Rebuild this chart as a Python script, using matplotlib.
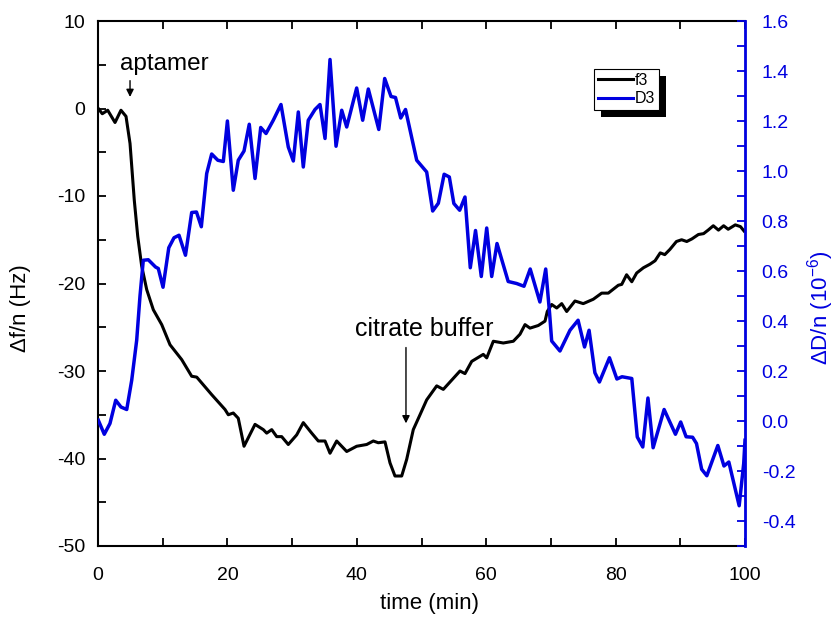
import matplotlib
matplotlib.use("Agg")
import matplotlib.pyplot as plt
from matplotlib.ticker import MultipleLocator, FormatStrFormatter
from matplotlib.patches import Rectangle

plt.rcParams['font.family'] = ['Liberation Sans', 'DejaVu Sans']
plt.rcParams['axes.unicode_minus'] = False
plt.rcParams['mathtext.fontset'] = 'custom'
plt.rcParams['mathtext.rm'] = 'Liberation Sans'

# f3 (left axis, Hz)
t_f = [0.05, 0.66, 1.5, 2.63, 3.55, 4.33, 4.95, 5.61, 6.14, 6.75, 7.53, 8.55, 9.85,
       11.13, 12.94, 14.48, 15.26, 17.57, 19.63, 20.14, 20.91, 21.68, 22.57, 24.27,
       25.55, 26.07, 26.85, 27.62, 28.39, 29.41, 30.71, 31.73, 33.03, 34.05, 35.09,
       35.86, 36.89, 38.44, 39.98, 41.53, 42.55, 43.32, 44.36, 45.13, 45.9, 46.94,
       47.71, 48.73, 49.77, 50.8, 52.35, 53.37, 55.95, 56.72, 57.76, 59.55, 60.08,
       61.1, 62.64, 64.19, 65.22, 66.0, 66.77, 68.05, 69.09, 69.44, 70.12, 70.9,
       71.67, 72.44, 73.72, 75.0, 76.55, 77.85, 78.87, 80.42, 80.95, 81.7, 82.5,
       83.26, 84.3, 85.3, 86.1, 86.9, 87.6, 88.4, 89.4, 90.2, 91.0, 91.8, 92.8,
       93.6, 94.3, 95.1, 95.9, 96.7, 97.4, 98.5, 99.3, 99.85]
f3 = [0.0, -0.6, -0.2, -1.6, -0.2, -0.9, -4.0, -10.5, -14.6, -18.0, -20.7, -23.0, -24.7,
      -27.0, -28.7, -30.6, -30.7, -32.7, -34.4, -35.0, -34.8, -35.4, -38.6, -36.1,
      -36.7, -37.1, -36.7, -37.5, -37.5, -38.4, -37.3, -35.9, -37.1, -38.0, -38.0,
      -39.4, -38.0, -39.2, -38.6, -38.4, -38.0, -38.2, -38.1, -40.5, -42.0, -42.0,
      -40.1, -36.7, -35.0, -33.3, -31.7, -32.1, -30.0, -30.3, -28.9, -28.1, -28.5,
      -26.6, -26.8, -26.6, -25.8, -24.7, -25.1, -24.8, -24.3, -23.2, -22.4, -22.8,
      -22.3, -23.2, -22.0, -22.3, -21.8, -21.1, -21.1, -20.2, -20.1, -19.0, -19.8,
      -18.8, -18.2, -17.8, -17.4, -16.5, -16.7, -16.1, -15.2, -15.0, -15.2, -14.9, -14.4,
      -14.3, -13.9, -13.4, -13.9, -13.4, -13.8, -13.3, -13.5, -14.0]

# D3 (right axis, 1e-6)
t_d = [0.05, 0.97, 1.85, 2.74, 3.55, 4.44, 5.21, 5.98, 6.49, 7.0, 7.77, 8.89, 9.32,
       10.05, 10.94, 11.75, 12.52, 13.52, 14.48, 15.22, 15.97, 16.8, 17.57, 18.52,
       19.37, 20.0, 20.91, 21.68, 22.57, 23.38, 24.27, 25.15, 25.97, 27.09, 28.28,
       29.41, 30.19, 30.96, 31.73, 32.5, 33.54, 34.31, 35.09, 35.86, 36.79, 37.67,
       38.44, 39.98, 40.91, 41.78, 43.4, 44.31, 45.29, 45.98, 46.79, 47.53, 49.26,
       50.8, 51.73, 52.6, 53.5, 54.3, 55.0, 55.9, 56.72, 57.54, 58.35, 59.24, 60.08,
       60.85, 61.67, 63.4, 64.7, 65.84, 66.8, 68.3, 69.2, 69.8, 70.12, 71.4, 72.95,
       74.2, 75.2, 75.9, 76.8, 77.5, 79.05, 80.2, 80.99, 82.5, 83.35, 84.2, 85.0,
       85.8, 87.5, 89.25, 90.06, 90.9, 91.9, 92.5, 93.3, 94.1, 95.8, 96.75, 97.5,
       99.1, 99.8, 100.0]
d3 = [0.003, -0.053, -0.01, 0.083, 0.056, 0.046, 0.163, 0.323, 0.50, 0.643, 0.645, 0.616, 0.61,
      0.535, 0.693, 0.733, 0.743, 0.663, 0.834, 0.836, 0.777, 0.99, 1.068, 1.043,
      1.038, 1.20, 0.923, 1.043, 1.08, 1.187, 0.97, 1.174, 1.15, 1.203, 1.266,
      1.096, 1.04, 1.236, 1.016, 1.203, 1.246, 1.266, 1.13, 1.446, 1.099, 1.243,
      1.176, 1.332, 1.203, 1.328, 1.166, 1.37, 1.298, 1.294, 1.212, 1.246, 1.043,
      0.996, 0.84, 0.871, 0.987, 0.976, 0.87, 0.843, 0.896, 0.613, 0.762, 0.578, 0.772,
      0.578, 0.71, 0.558, 0.55, 0.539, 0.608, 0.476, 0.608, 0.43, 0.32, 0.28, 0.363,
      0.403, 0.296, 0.363, 0.193, 0.156, 0.253, 0.168, 0.177, 0.17, -0.064, -0.104, 0.092,
      -0.107, 0.046, -0.053, -0.004, -0.063, -0.065, -0.09, -0.193, -0.219, -0.098, -0.18, -0.164,
      -0.339, -0.17, -0.077]

fig = plt.figure(figsize=(8.36, 6.21), dpi=100)
ax = fig.add_axes([98/836, 1-546/621, 647/836, 525/621])
ax2 = ax.twinx()

blue = '#0000e0'
l1, = ax.plot(t_f, f3, color='black', lw=2.2, label='f3', zorder=3)
l2, = ax2.plot(t_d, d3, color=blue, lw=2.5, label='D3', zorder=2)

ax.set_xlim(0, 100)
ax.set_ylim(-50, 10)
ax2.set_ylim(-0.5, 1.6)

ax.xaxis.set_major_locator(MultipleLocator(20))
ax.xaxis.set_minor_locator(MultipleLocator(10))
ax.yaxis.set_major_locator(MultipleLocator(10))
ax.yaxis.set_minor_locator(MultipleLocator(5))
ax2.yaxis.set_major_locator(MultipleLocator(0.2))
ax2.yaxis.set_minor_locator(MultipleLocator(0.1))
ax2.yaxis.set_major_formatter(FormatStrFormatter('%.1f'))

ax.tick_params(axis='x', which='both', direction='in', top=True, length=6, width=1.3,
               labelsize=14, pad=15)
ax.tick_params(axis='y', which='both', direction='in', length=6, width=1.3,
               labelsize=14, pad=9)
ax2.tick_params(axis='y', which='both', direction='in', length=6, width=1.3,
                labelsize=14, pad=12, colors=blue)

for s in ['left', 'bottom', 'top']:
    ax.spines[s].set_linewidth(1.5)
ax2.spines['right'].set_color(blue)
ax2.spines['right'].set_linewidth(2.0)
for s in ['left', 'bottom', 'top']:
    ax2.spines[s].set_visible(False)

ax.set_xlabel('time (min)', fontsize=16)
ax.xaxis.set_label_coords(0.512, -0.09)
ax.set_ylabel('Δf/n (Hz)', fontsize=16)
ax.yaxis.set_label_coords(-0.104, 0.453)
ax2.set_ylabel('ΔD/n (10$^{-6}$)', fontsize=16, color=blue)
ax2.yaxis.set_label_coords(1.093, 0.453)

ax.annotate('', xy=(4.95, 1.0), xytext=(4.95, 3.5),
            arrowprops=dict(arrowstyle='-|>', lw=1.0, color='black', mutation_scale=11))
ax.text(3.4, 4.4, 'aptamer', fontsize=17.5, va='baseline', ha='left')
ax.annotate('', xy=(47.6, -36.3), xytext=(47.6, -27.0),
            arrowprops=dict(arrowstyle='-|>', lw=1.0, color='black', mutation_scale=11))
ax.text(39.7, -26.0, 'citrate buffer', fontsize=18, va='baseline', ha='left')

leg = ax2.legend(handles=[l1, l2], loc='upper left',
                 bbox_to_anchor=((594-98)/647, (546-69)/525),
                 fontsize=11.5, frameon=True, fancybox=False, edgecolor='black',
                 framealpha=1, handlelength=2.2, handletextpad=0.1,
                 borderpad=0.25, labelspacing=0.2, borderaxespad=0)
leg.get_frame().set_linewidth(0.8)
for h in leg.get_lines():
    h.set_linewidth(2.2)
leg.set_zorder(10)

fig.canvas.draw()
bb = leg.get_window_extent()
shadow = Rectangle((bb.x0 + 7, bb.y0 - 7), bb.width, bb.height, transform=None,
                   facecolor='black', edgecolor='none', zorder=9)
ax2.add_artist(shadow)

fig.savefig('out.png', dpi=100)
